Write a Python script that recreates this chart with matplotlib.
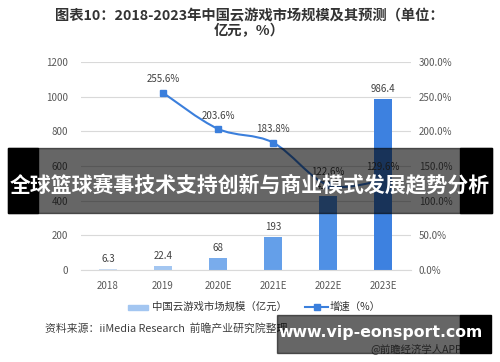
import matplotlib.pyplot as plt
import numpy as np
from matplotlib.patches import Rectangle, PathPatch
from matplotlib.path import Path

plt.rcParams["font.family"] = ["Noto Sans CJK SC", "DejaVu Sans"]

years = ["2018", "2019", "2020E", "2021E", "2022E", "2023E"]
market_size = [6.3, 22.4, 68, 193, 429.6, 986.4]
market_labels = ["6.3", "22.4", "68", "193", "429.6", "986.4"]
growth = [255.6, 203.6, 183.8, 122.6, 129.6]
growth_labels = ["255.6%", "203.6%", "183.8%", "122.6%", "129.6%"]
left_ticks = [0, 200, 400, 600, 800, 1000, 1200]
right_ticks = [0, 50, 100, 150, 200, 250, 300]

bar_colors = ["#c9dcf3", "#a3c6f1", "#79acec", "#649fe9", "#4f90e5", "#3d81e0"]
line_color = "#3b7fdc"
text_gray = "#595959"

W, H = 500, 362
fig = plt.figure(figsize=(W / 100, H / 100), dpi=100)
ax = fig.add_axes([80.5 / W, 92 / H, 330 / W, 208 / H])
ax2 = ax.twinx()

x = np.arange(len(years))
ax.bar(x, market_size, width=0.31, color=bar_colors, zorder=2)
for xi, v, lab in zip(x, market_size, market_labels):
    ax.text(xi, v + 28, lab, ha="center", va="bottom",
            fontsize=7, color="#404040")

ax.set_xlim(-0.5, len(years) - 0.5)
ax.set_ylim(0, 1200)
ax.set_yticks(left_ticks)
ax.set_xticks(x)
ax.set_xticklabels(years)
ax.grid(axis="y", color="#d9d9d9", linewidth=0.8, zorder=0)
ax.set_axisbelow(True)
for side in ["top", "left", "right"]:
    ax.spines[side].set_visible(False)
ax.spines["bottom"].set_color("#d9d9d9")
ax.tick_params(length=0, labelsize=7, colors=text_gray, pad=8)
ax.tick_params(axis="y", pad=9)

# smooth growth curve (Catmull-Rom through the data points)
gx = x[1:].astype(float)
gy = np.array(growth, dtype=float)
verts = [(gx[0], gy[0])]
codes = [Path.MOVETO]
for i in range(len(gx) - 1):
    p0 = np.array([gx[max(i - 1, 0)], gy[max(i - 1, 0)]])
    p1 = np.array([gx[i], gy[i]])
    p2 = np.array([gx[i + 1], gy[i + 1]])
    p3 = np.array([gx[min(i + 2, len(gx) - 1)], gy[min(i + 2, len(gx) - 1)]])
    c1 = p1 + (p2 - p0) / 6
    c2 = p2 - (p3 - p1) / 6
    verts += [tuple(c1), tuple(c2), tuple(p2)]
    codes += [Path.CURVE4] * 3
ax2.add_patch(PathPatch(Path(verts, codes), fill=False,
                        edgecolor=line_color, linewidth=1.5, zorder=3))
ax2.plot(gx, gy, linestyle="none", marker="s", markersize=4.5,
         color=line_color, zorder=4)
for xi, v, lab in zip(gx, gy, growth_labels):
    ax2.text(xi, v + 12, lab, ha="center", va="bottom",
             fontsize=7, color="#404040")

ax2.set_ylim(0, 300)
ax2.set_yticks(right_ticks)
ax2.set_yticklabels([f"{t:.1f}%" for t in right_ticks])
for side in ["top", "left", "right", "bottom"]:
    ax2.spines[side].set_visible(False)
ax2.tick_params(length=0, labelsize=7, colors=text_gray, pad=6)

# title
fig.text(249 / W, 1 - 16 / H, "图表10：2018-2023年中国云游戏市场规模及其预测（单位：",
         ha="center", va="center", fontsize=10.3, fontweight="bold", color="#333333")
fig.text(249 / W, 1 - 31 / H, "亿元，%）",
         ha="center", va="center", fontsize=10.3, fontweight="bold", color="#333333")

# legend
fig.patches.append(Rectangle((128 / W, 1 - 310 / H), 20 / W, 5 / H,
                             transform=fig.transFigure, color="#a3c6f1"))
fig.text(152 / W, 1 - 307 / H, "中国云游戏市场规模（亿元）", ha="left", va="center",
         fontsize=7.5, color="#333333")
fig.lines.append(plt.Line2D([305 / W, 328 / W], [1 - 307 / H, 1 - 307 / H],
                            transform=fig.transFigure, color=line_color,
                            linewidth=1.5))
fig.lines.append(plt.Line2D([316.5 / W], [1 - 307 / H],
                            transform=fig.transFigure, color=line_color,
                            marker="s", markersize=4.5, linestyle="none"))
fig.text(330 / W, 1 - 307 / H, "增速（%）", ha="left", va="center",
         fontsize=7.5, color="#333333")

# source
fig.text(45 / W, 1 - 328 / H, "资料来源：iiMedia Research  前瞻产业研究院整理",
         ha="left", va="center", fontsize=7.8, color="#404040")
fig.text(462 / W, 1 - 349 / H, "@前瞻经济学人APP", ha="right", va="center",
         fontsize=7.5, color="#595959")

# overlay banner
fig.patches.append(Rectangle((8 / W, 1 - 213 / H), 484 / W, 65 / H,
                             transform=fig.transFigure, color="black",
                             alpha=0.6, zorder=5))
fig.patches.append(Rectangle((8 / W, 1 - 213 / H), 30 / W, 65 / H,
                             transform=fig.transFigure, color="black", zorder=5))
fig.patches.append(Rectangle((460 / W, 1 - 213 / H), 32 / W, 65 / H,
                             transform=fig.transFigure, color="black", zorder=5))
fig.text(250 / W, 1 - 186 / H, "全球篮球赛事技术支持创新与商业模式发展趋势分析",
         ha="center", va="center", fontsize=15, fontweight="bold",
         color="white", zorder=6)

# bottom watermark
fig.patches.append(Rectangle((277 / W, 1 - 353 / H), 183 / W, 38 / H,
                             transform=fig.transFigure, color="black",
                             alpha=0.6, zorder=5))
fig.patches.append(Rectangle((460 / W, 1 - 353 / H), 31 / W, 38 / H,
                             transform=fig.transFigure, color="black", zorder=5))
fig.text(381 / W, 1 - 332 / H, "www.vip-eonsport.com", ha="center", va="center",
         fontsize=11.3, fontweight="bold", color="white", zorder=6,
         family="DejaVu Sans")

fig.savefig("out.png", dpi=100)
